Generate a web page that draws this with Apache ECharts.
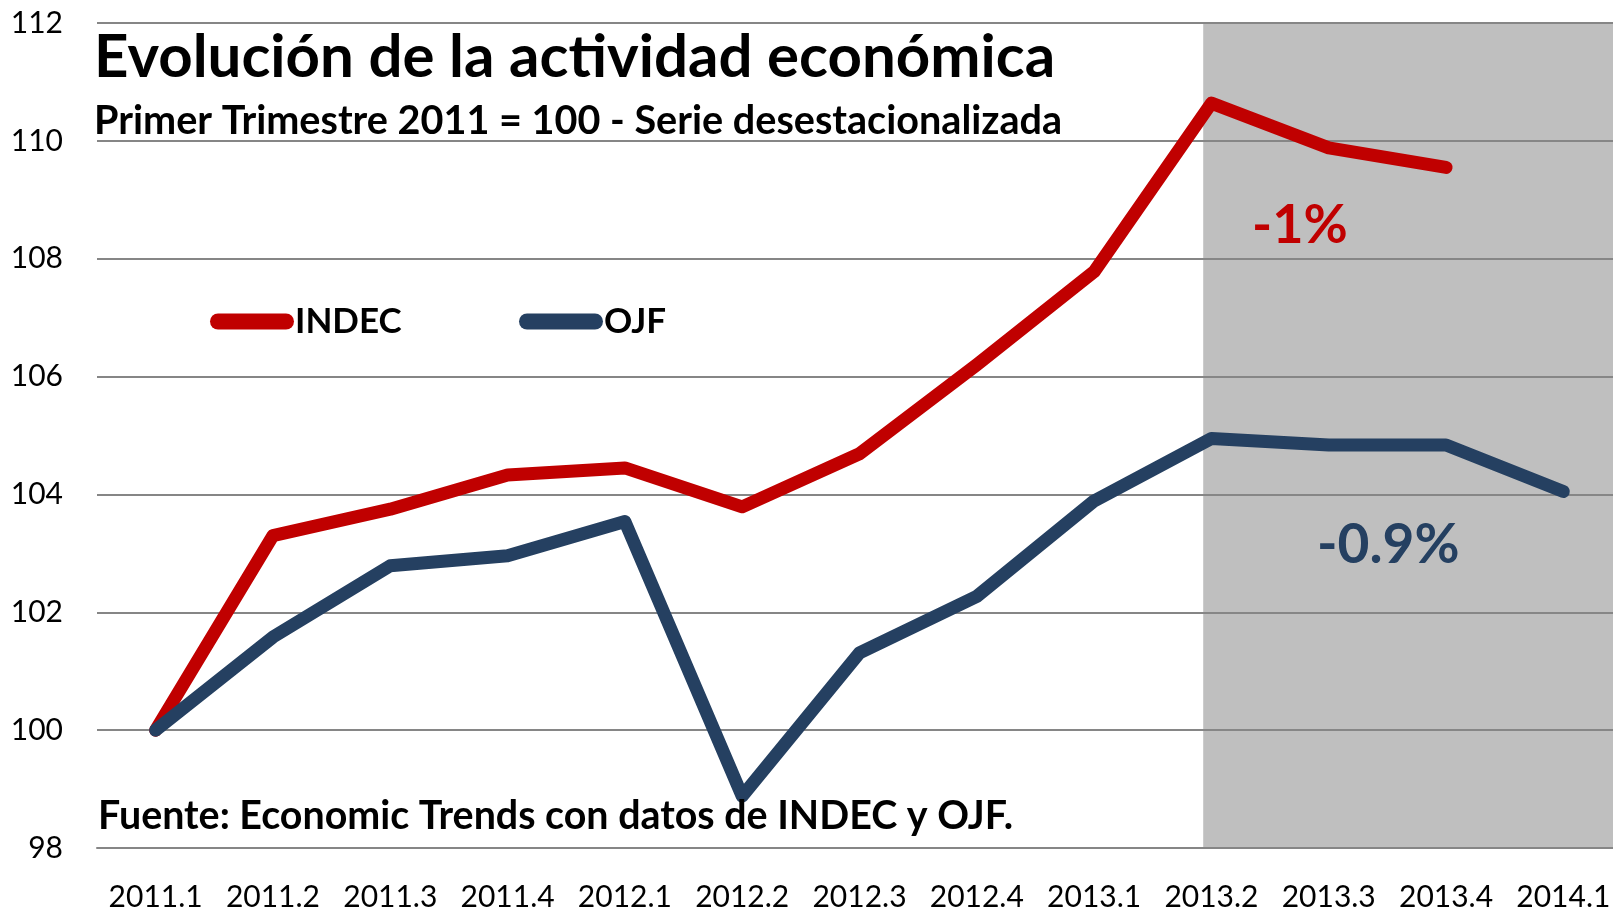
<!DOCTYPE html>
<html>
<head>
<meta charset="utf-8">
<script src="https://cdn.jsdelivr.net/npm/echarts@6/dist/echarts.min.js"></script>
<style>
  html, body { margin: 0; padding: 0; background: #fff; }
  #chart { width: 1613px; height: 911px; }
</style>
</head>
<body>
<div id="chart"></div>
<script>
// trimestres
const quarters = ["2011.1", "2011.2", "2011.3", "2011.4", "2012.1", "2012.2", "2012.3",
  "2012.4", "2013.1", "2013.2", "2013.3", "2013.4", "2014.1"];
// indice, primer trimestre 2011 = 100
const indec = [100, 103.3, 103.75, 104.33, 104.45, 103.79, 104.69, 106.2, 107.78, 110.64, 109.88, 109.55, null];
const ojf = [100, 101.58, 102.79, 102.96, 103.54, 98.88, 101.31, 102.27, 103.89, 104.95, 104.84, 104.84, 104.05];
const yTicks = { min: 98, max: 112, step: 2 };
// zona sombreada (posicion en el eje de categorias)
const shadeFrom = 8.93;
const shadeTo = 12.5;

const red = "#C00000";
const navy = "#254061";
const grey = "#868686";
const capsule = "path://M8,0 L76,0 A8,8 0 0 1 76,16 L8,16 A8,8 0 0 1 8,0 Z";

function initChart() {
  const chart = echarts.init(document.getElementById("chart"));
  const legendText = {
    fontFamily: "Lato",
    fontWeight: "bold",
    fontSize: 35,
    color: "#000",
    padding: [0, 0, 0, -4],
  };
  const option = {
    animation: false,
    textStyle: { fontFamily: "Lato" },
    // el grafico original sigue un poco mas alla del borde derecho
    grid: { left: 97, width: 1525, top: 23, bottom: 63, outerBoundsMode: "none", containLabel: false },
    legend: [
      {
        data: ["INDEC"],
        left: 210,
        top: 304,
        padding: 0,
        icon: capsule,
        itemWidth: 84,
        itemHeight: 16,
        textStyle: legendText,
      },
      {
        data: ["OJF"],
        left: 519,
        top: 304,
        padding: 0,
        icon: capsule,
        itemWidth: 84,
        itemHeight: 16,
        textStyle: legendText,
      },
    ],
    xAxis: [
      {
        type: "category",
        data: quarters,
        boundaryGap: true,
        z: 2,
        axisLine: { lineStyle: { color: grey, width: 2 } },
        axisTick: { length: 9, lineStyle: { color: grey, width: 2 } },
        axisLabel: {
          interval: 0,
          margin: 34,
          color: "#000",
          fontFamily: "Lato",
          fontSize: 30,
        },
        splitLine: { show: false },
      },
      {
        type: "value",
        min: -0.5,
        max: 12.5,
        show: false,
      },
    ],
    yAxis: {
      type: "value",
      min: yTicks.min,
      max: yTicks.max,
      interval: yTicks.step,
      z: 2,
      axisLine: { show: false },
      axisTick: { show: false },
      axisLabel: {
        margin: 34,
        color: "#000",
        fontFamily: "Lato",
        fontSize: 30,
      },
      splitLine: { lineStyle: { color: grey, width: 2 } },
    },
    series: [
      {
        name: "zona",
        type: "line",
        xAxisIndex: 1,
        data: [],
        z: 1,
        clip: false,
        silent: true,
        markArea: {
          silent: true,
          itemStyle: { color: "#BFBFBF" },
          data: [[{ xAxis: shadeFrom, yAxis: 112.07 }, { xAxis: shadeTo, yAxis: yTicks.min }]],
        },
      },
      {
        name: "INDEC",
        type: "line",
        data: indec,
        color: red,
        z: 3,
        showSymbol: false,
        lineStyle: { color: red, width: 13, cap: "round", join: "round" },
      },
      {
        name: "OJF",
        type: "line",
        data: ojf,
        color: navy,
        z: 4,
        showSymbol: false,
        lineStyle: { color: navy, width: 13, cap: "round", join: "round" },
      },
    ],
    graphic: [
      {
        type: "text",
        x: 94,
        y: 58,
        z: 10,
        style: {
          text: "Evolución de la actividad económica",
          font: "bold 60px Lato",
          fill: "#000",
          verticalAlign: "middle",
        },
      },
      {
        type: "text",
        x: 94,
        y: 121,
        z: 10,
        style: {
          text: "Primer Trimestre 2011 = 100 - Serie desestacionalizada",
          font: "bold 39.6px Lato",
          fill: "#000",
          verticalAlign: "middle",
        },
      },
      {
        type: "text",
        x: 98,
        y: 816,
        z: 10,
        style: {
          text: "Fuente: Economic Trends con datos de INDEC y OJF.",
          font: "bold 39.4px Lato",
          fill: "#000",
          verticalAlign: "middle",
        },
      },
      {
        type: "text",
        x: 1252,
        y: 226,
        z: 10,
        style: {
          text: "-1%",
          font: "bold 54px Lato",
          fill: red,
          verticalAlign: "middle",
        },
      },
      {
        type: "text",
        x: 1317,
        y: 545,
        z: 10,
        style: {
          text: "-0.9%",
          font: "bold 55px Lato",
          fill: navy,
          verticalAlign: "middle",
        },
      },
    ],
  };
  chart.setOption(option);
}

initChart();
</script>
</body>
</html>
